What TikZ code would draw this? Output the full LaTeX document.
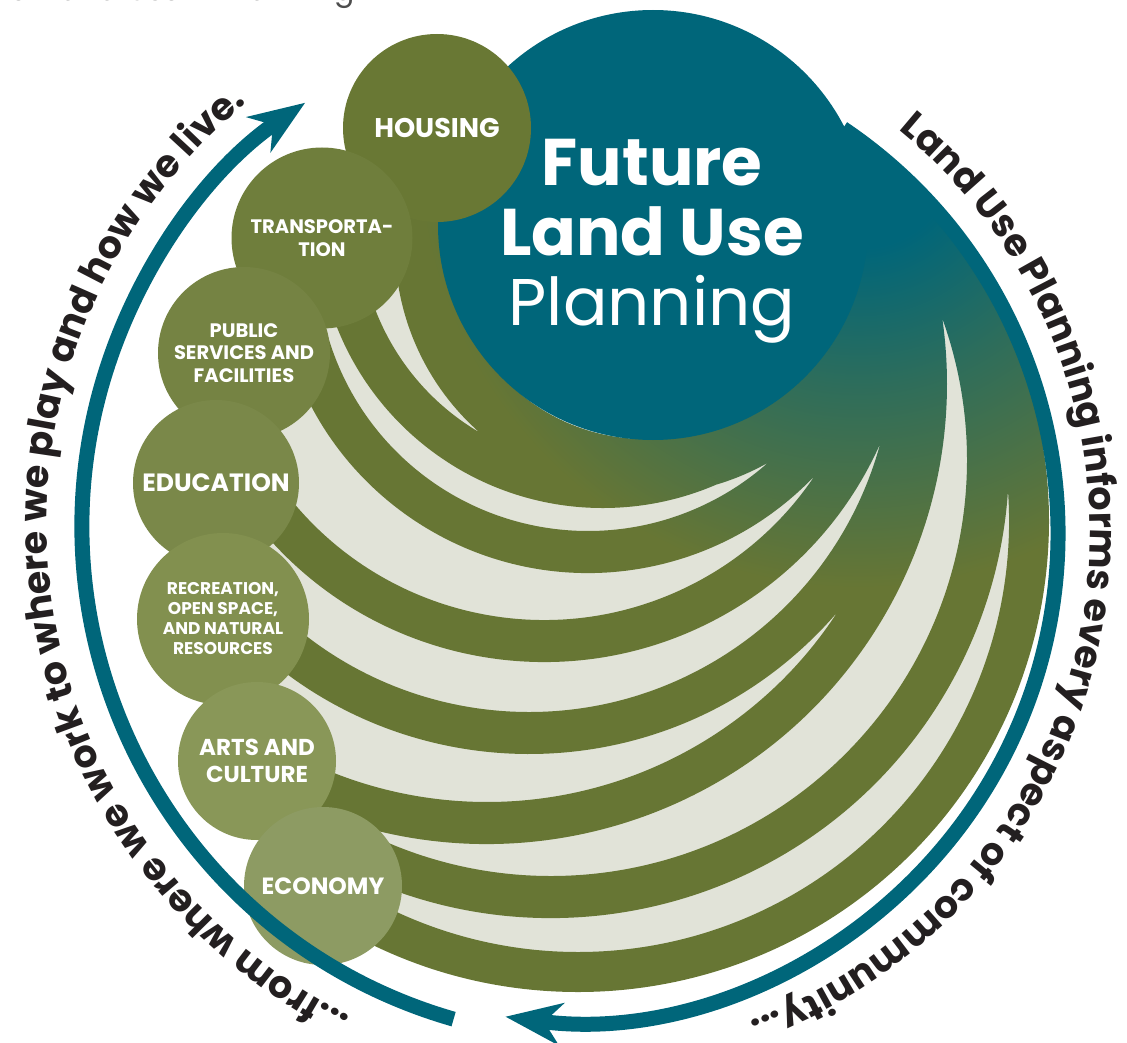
\documentclass[tikz,border=0pt]{standalone}
\usepackage{fontspec}
\setmainfont{Poppins}
\usetikzlibrary{arrows.meta,decorations.text}

\definecolor{luteal}{HTML}{00667A}
\definecolor{luolive}{HTML}{677634}
\definecolor{lugray}{HTML}{E1E3D8}
\definecolor{luink}{HTML}{231F20}
\definecolor{lutitle}{HTML}{4D4D4D}
\definecolor{cHousing}{HTML}{697834}
\definecolor{cTransport}{HTML}{6F7E3C}
\definecolor{cServices}{HTML}{758343}
\definecolor{cEducation}{HTML}{7A8849}
\definecolor{cRecreation}{HTML}{82904F}
\definecolor{cArts}{HTML}{899758}
\definecolor{cEconomy}{HTML}{8D9B63}

\pgfdeclarelayer{bg}
\pgfsetlayers{bg,main}
\pgfdeclareradialshading{tealfade}{\pgfpoint{0bp}{0bp}}{color(0bp)=(luteal); color(2.5bp)=(luteal); color(6bp)=(luteal!55!luolive); color(11bp)=(luolive); color(50bp)=(luolive)}

\newcommand{\topicsize}[2]{\fontsize{#1}{#2}\selectfont\bfseries}
\newcommand{\ringfont}{\fontsize{38}{40}\selectfont\bfseries}

\tikzset{
    topic/.style={circle, draw=none, fill=#1, text=white, align=center, inner sep=0pt},
    ring/.style={draw=luteal, line width=15pt, -{Stealth[length=56pt, width=42pt, inset=17pt]}},
    ringtext/.style={decorate, decoration={text along path, text align=center, text color=luink}}
}

\begin{document}
\begin{tikzpicture}[x=1pt, y=1pt]
    \useasboundingbox (0,0) rectangle (1127,-1043);

    \node[anchor=base west, inner sep=0pt, text=lutitle, font=\fontsize{30}{32}\selectfont] (heading) at (9,-1) {of Land Use in Planning};

    \begin{pgfonlayer}{bg}
        \begin{scope}
            \clip (578,-521) circle (471);
            \fill[lugray] (323,-885) -- ([shift={(235:451)}]578,-521) arc[start angle=235, end angle=420, radius=451]
                -- ([shift={(30:222)}]645,-245) arc[start angle=390, end angle=150, radius=222]
                -- (322,-236) -- (244,-350) -- (216,-482) -- (224,-619) -- (257,-760) -- cycle;
            \begin{scope}
                \clip \foreach \cx/\cy/\r/\w/\s/\e in {645/-245/222/28/150/390, 603/-222/265/21/183/378,
                        588/-260/292/21/195/383, 544/-294/347/21/210/385, 529/-348/385/21/222/392,
                        487/-384/439/21/238/393, 551/-460/437/21/242/406, 578/-521/451/20/235/420} {
                    ([shift={(\s:\r+\w)}]\cx,\cy) arc[start angle=\s, end angle=\e, radius=\r+\w]
                    -- ([shift={(\e:\r-\w)}]\cx,\cy) arc[start angle=\e, end angle=\s, radius=\r-\w] -- cycle
                } (858,-148) circle (70);
                \shade[shading=tealfade] (858,-148) circle (1000);
            \end{scope}
        \end{scope}
    \end{pgfonlayer}

    \node[circle, fill=luteal, minimum size=430pt, inner sep=0pt] (future) at (653,-225) {};
    \node[text=white, align=center, inner sep=0pt, font=\fontsize{66}{70}\selectfont] (futuretext) at (652,-241)
        {\textbf{Future}\\\textbf{Land Use}\\Planning};

    \node[topic=cHousing, minimum size=188pt, font=\topicsize{27}{30}] (housing) at (437,-128) {HOUSING};
    \node[topic=cTransport, minimum size=181pt, font=\topicsize{19.5}{23}] (transport) at (322,-238) {TRANSPORTA-\\TION};
    \node[topic=cServices, minimum size=172pt, font=\topicsize{19.5}{22.5}] (services) at (244,-353) {PUBLIC\\SERVICES AND\\FACILITIES};
    \node[topic=cEducation, minimum size=166pt, font=\topicsize{25}{26}] (education) at (216,-483) {EDUCATION};
    \node[topic=cRecreation, minimum size=172pt, font=\topicsize{17}{20}] (recreation) at (223,-619) {RECREATION,\\OPEN SPACE,\\AND NATURAL\\RESOURCES};
    \node[topic=cArts, minimum size=158pt, font=\topicsize{23}{27}] (arts) at (257,-761) {ARTS AND\\CULTURE};
    \node[topic=cEconomy, minimum size=158pt, font=\topicsize{23.5}{25}] (economy) at (323,-886) {ECONOMY};

    \coordinate (leftend) at ([shift={(254:513)}]595,-526);
    \coordinate (rightstart) at ([shift={(56:488)}]570,-533);
    \draw[ring] (leftend) arc[start angle=254, end angle=124.4, radius=513];
    \draw[ring] (rightstart) arc[start angle=56, end angle=-97.6, radius=488];

    \path[ringtext, decoration={text={|\ringfont|...from where we work to where we play and how we live.}}]
        ([shift={(276:548)}]595,-526) arc[start angle=276, end angle=97, radius=548];
    \path[ringtext, decoration={text={|\ringfont|Land Use Planning informs every aspect of community...}}]
        ([shift={(80:520)}]570,-533) arc[start angle=80, end angle=-99, radius=520];
\end{tikzpicture}
\end{document}
